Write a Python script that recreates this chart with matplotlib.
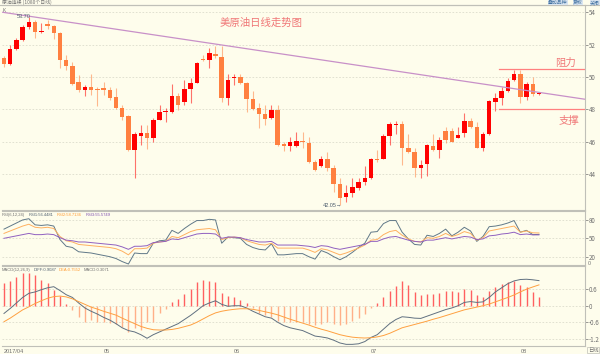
import matplotlib
matplotlib.use("Agg")
import matplotlib.pyplot as plt
import numpy as np

plt.rcParams['font.family'] = ['Noto Sans CJK SC', 'DejaVu Sans']

# daily candles
opens = [51.16, 50.79, 51.73, 52.27, 53.09, 53.38, 52.76, 53.28, 53.17, 52.72,
         51.03, 50.70, 49.67, 49.20, 49.36, 49.22, 49.30, 49.18, 48.76, 48.10,
         47.59, 45.50, 46.37, 46.52, 46.21, 47.36, 47.85, 47.82, 48.82, 48.47,
         49.26, 49.63, 51.11, 51.03, 51.40, 51.26, 48.72, 49.92, 50.00, 49.63,
         48.64, 48.06, 47.73, 47.45, 47.96, 45.86, 45.72, 45.72, 46.04, 45.94,
         44.72, 44.48, 44.93, 44.35, 43.40, 42.60, 42.85, 43.16, 43.53, 43.73,
         44.93, 44.93, 46.35, 47.05, 47.07, 45.63, 45.38, 44.39, 44.60, 45.75,
         45.49, 46.68, 46.68, 46.21, 46.52, 47.28, 46.91, 45.63, 46.47, 48.47,
         48.72, 49.13, 49.81, 50.17, 48.78, 49.59, 48.95]
highs = [51.30, 51.95, 52.40, 53.20, 53.70, 53.55, 53.32, 53.50, 53.20, 52.75,
         51.36, 50.95, 50.10, 49.50, 50.17, 49.35, 49.70, 49.35, 49.30, 48.27,
         47.65, 46.62, 47.03, 47.03, 47.45, 48.27, 48.06, 49.58, 49.00, 49.82,
         49.92, 50.95, 51.36, 51.77, 51.94, 51.94, 50.20, 50.20, 50.20, 49.71,
         49.10, 48.37, 48.27, 48.27, 48.27, 46.00, 46.30, 46.62, 46.62, 46.30,
         44.87, 45.10, 45.38, 44.56, 43.74, 43.32, 43.74, 43.74, 44.50, 44.97,
         45.50, 46.50, 47.24, 47.30, 47.30, 46.50, 45.59, 44.87, 45.85, 46.50,
         46.30, 46.90, 46.85, 46.90, 47.75, 47.45, 47.20, 46.62, 48.57, 48.99,
         49.40, 49.92, 50.43, 50.43, 49.71, 50.00, 49.05]
lows = [50.60, 50.75, 51.65, 52.20, 52.95, 52.39, 52.70, 52.95, 52.35, 50.54,
        50.45, 49.50, 49.05, 48.85, 48.90, 48.22, 48.90, 48.60, 48.00, 47.35,
        45.45, 43.77, 45.79, 45.55, 46.00, 47.35, 47.20, 47.75, 47.95, 48.27,
        48.37, 49.60, 50.98, 50.54, 51.15, 48.47, 48.27, 49.50, 49.55, 47.85,
        47.95, 46.83, 47.00, 47.40, 45.70, 45.45, 45.45, 45.65, 45.59, 44.66,
        44.20, 44.40, 44.20, 42.91, 42.05, 42.29, 42.60, 43.00, 43.32, 43.70,
        44.76, 44.90, 45.80, 46.50, 44.56, 45.30, 43.80, 43.74, 43.85, 45.40,
        45.00, 45.90, 45.95, 46.21, 46.30, 46.85, 45.59, 45.40, 46.41, 47.90,
        48.27, 49.05, 49.75, 48.37, 48.57, 48.85, 48.90]
closes = [50.79, 51.73, 52.27, 53.09, 53.38, 52.80, 52.86, 53.17, 52.72, 51.03,
          50.70, 49.59, 49.20, 49.36, 49.20, 49.20, 49.18, 48.72, 48.06, 47.55,
          45.50, 46.47, 46.52, 46.21, 47.34, 47.82, 47.90, 48.82, 48.27, 49.26,
          49.63, 50.87, 51.03, 51.47, 51.28, 48.72, 49.83, 50.00, 49.63, 48.64,
          48.02, 47.73, 47.40, 47.96, 45.80, 45.72, 45.96, 46.04, 45.96, 44.72,
          44.27, 44.93, 44.35, 43.36, 42.54, 42.83, 43.22, 43.53, 43.77, 44.93,
          44.87, 46.35, 47.07, 47.07, 45.63, 45.38, 44.35, 44.56, 45.80, 45.49,
          46.10, 46.10, 46.00, 46.41, 47.28, 46.93, 45.63, 46.50, 48.53, 48.68,
          49.13, 49.75, 50.17, 48.78, 49.59, 48.93, 49.03]

rsi1 = [65, 70, 75, 80, 82, 72, 71, 72, 70, 48, 37, 35, 28, 27, 26, 24, 22, 20, 17, 12,
        8, 26, 25, 25, 42, 46, 47, 63, 58, 66, 73, 79, 79, 81, 80, 42, 52, 51, 50, 40,
        35, 32, 31, 41, 23, 23, 24, 25, 25, 20, 16, 30, 26, 20, 15, 20, 27, 35, 42, 60,
        61, 74, 79, 79, 60, 49, 40, 39, 55, 53, 58, 65, 54, 60, 68, 62, 45, 53, 69, 70,
        72, 75, 79, 60, 63, 56, 56.4]
rsi2 = [58, 62, 66, 70, 73, 68, 67, 68, 66, 53, 46, 44, 40, 39, 38, 37, 36, 35, 33, 29,
        23, 33, 33, 34, 42, 44, 45, 53, 51, 56, 61, 64, 65, 66, 64, 48, 51, 52, 51, 46,
        43, 40, 39, 42, 34, 34, 34, 34, 34, 31, 27, 33, 31, 27, 23, 26, 30, 34, 39, 47,
        48, 56, 61, 63, 55, 49, 45, 44, 51, 50, 53, 58, 53, 56, 61, 58, 47, 51, 62, 64,
        66, 68, 70, 60, 62, 59, 58.7]
rsi3 = [50, 52, 54, 56, 58, 56, 56, 57, 56, 51, 47, 46, 44, 44, 43, 42, 41, 40, 39, 36,
        32, 37, 37, 38, 43, 44, 45, 49, 48, 51, 54, 57, 58, 58, 57, 50, 52, 52, 51, 48,
        46, 44, 44, 45, 39, 39, 39, 39, 38, 37, 35, 38, 37, 34, 32, 34, 36, 38, 40, 45,
        45, 49, 52, 53, 50, 47, 45, 44, 47, 47, 49, 51, 49, 51, 53, 52, 48, 49, 54, 55,
        57, 58, 60, 56, 57, 55.6, 55.6]

diff = [-0.28, -0.10, 0.10, 0.30, 0.45, 0.50, 0.58, 0.65, 0.69, 0.55,
        0.40, 0.30, 0.10, -0.08, -0.20, -0.30, -0.42, -0.52, -0.65, -0.80,
        -0.90, -0.95, -1.05, -1.18, -1.05, -0.95, -0.85, -0.75, -0.65, -0.50,
        -0.35, -0.18, 0.00, 0.10, 0.18, 0.05, -0.02, 0.00, 0.00, -0.08,
        -0.20, -0.30, -0.40, -0.45, -0.60, -0.72, -0.80, -0.85, -0.90, -1.00,
        -1.10, -1.13, -1.17, -1.25, -1.35, -1.40, -1.40, -1.38, -1.30, -1.15,
        -1.05, -0.85, -0.65, -0.50, -0.40, -0.42, -0.45, -0.46, -0.38, -0.30,
        -0.22, -0.14, -0.08, 0.00, 0.12, 0.15, 0.12, 0.14, 0.30, 0.50,
        0.65, 0.80, 0.90, 0.95, 0.96, 0.94, 0.91]
dea = [-0.58, -0.45, -0.30, -0.15, -0.04, 0.08, 0.18, 0.27, 0.33, 0.35,
       0.32, 0.25, 0.15, 0.05, -0.05, -0.12, -0.20, -0.27, -0.34, -0.45,
       -0.55, -0.65, -0.75, -0.82, -0.87, -0.88, -0.88, -0.86, -0.82, -0.76,
       -0.70, -0.60, -0.48, -0.36, -0.26, -0.20, -0.16, -0.13, -0.11, -0.11,
       -0.13, -0.17, -0.22, -0.27, -0.33, -0.41, -0.49, -0.56, -0.63, -0.70,
       -0.78, -0.85, -0.91, -0.98, -1.05, -1.10, -1.14, -1.16, -1.17, -1.16,
       -1.13, -1.08, -1.00, -0.90, -0.80, -0.74, -0.68, -0.62, -0.56, -0.49,
       -0.43, -0.36, -0.29, -0.22, -0.15, -0.10, -0.05, 0.00, 0.06, 0.14,
       0.22, 0.30, 0.39, 0.50, 0.60, 0.68, 0.755]
macd = [0.83, 0.91, 1.03, 1.17, 1.17, 1.10, 0.95, 0.83, 0.57, 0.35,
        0.08, -0.16, -0.40, -0.58, -0.52, -0.60, -0.58, -0.62, -0.66, -0.76,
        -0.94, -0.82, -0.88, -0.60, -0.58, -0.28, -0.13, 0.14, 0.23, 0.42,
        0.59, 0.87, 0.95, 0.90, 0.85, 0.45, 0.35, 0.30, 0.20, 0.10,
        -0.10, -0.25, -0.35, -0.40, -0.55, -0.60, -0.60, -0.60, -0.60, -0.65,
        -0.70, -0.65, -0.60, -0.65, -0.70, -0.65, -0.55, -0.45, -0.30, -0.10,
        0.10, 0.30, 0.55, 0.70, 0.90, 0.75, 0.51, 0.39, 0.42, 0.42,
        0.47, 0.54, 0.54, 0.51, 0.59, 0.56, 0.39, 0.33, 0.54, 0.69,
        0.78, 0.87, 0.90, 0.75, 0.69, 0.51, 0.31]

month_pos = [0, 16, 37, 59, 83]
month_labels = ['2017/04', '05', '06', '07', '08']
price_ticks = [44, 46, 48, 50, 52, 54]

W, H = 600, 354
BG = '#fefdec'
UP = '#ff0000'
DOWN = '#ff8040'
GRID = '#dcdccc'
EDGE = '#c0c0b8'
TXT = '#707070'
SMALL = ['Liberation Sans', 'Noto Sans CJK SC']

fig = plt.figure(figsize=(W / 100, H / 100), dpi=100)
fig.patch.set_facecolor(BG)


def px_axes(x0, y0, x1, y1):
    a = fig.add_axes([x0 / W, 1 - y1 / H, (x1 - x0) / W, (y1 - y0) / H])
    a.set_facecolor(BG)
    a.spines['left'].set_visible(False)
    for s in ['top', 'bottom', 'right']:
        a.spines[s].set_color(EDGE)
        a.spines[s].set_linewidth(0.8)
    a.yaxis.tick_right()
    a.tick_params(axis='y', labelsize=4.5, colors=TXT, length=2, pad=1, width=0.5)
    a.tick_params(axis='x', length=0)
    a.set_xticks([])
    a.set_xlim(-0.32, 93.4)
    return a


def ptext(x, y, s, **kw):
    kw.setdefault('va', 'center')
    return fig.text(x / W, 1 - y / H, s, **kw)


ax = px_axes(2, 5, 585, 210)
ax_rsi = px_axes(2, 211, 585, 265)
ax_macd = px_axes(2, 266, 585, 346)

idx = np.arange(len(closes))
o = np.array(opens)
c = np.array(closes)
up = c >= o
cols = np.where(up, UP, DOWN)

# candles
ax.vlines(idx, lows, highs, colors=cols, linewidth=0.8, alpha=0.55, zorder=2)
ax.bar(idx, np.maximum(np.abs(c - o), 0.04), bottom=np.minimum(o, c), width=0.72,
       color=cols, linewidth=0, zorder=3)
ax.set_ylim(41.77, 54.45)
ax.set_yticks(price_ticks)
ax.set_yticklabels([str(t) for t in price_ticks])
for t in price_ticks:
    ax.axhline(t, color=GRID, lw=0.6, ls=(0, (2, 2)), zorder=0)

# trend line, resistance, support
ax.plot([-0.2, 93.4], [54.0, 48.62], color='#c890c8', lw=0.9, zorder=4)
ax.plot([79.5, 93.4], [50.48, 50.48], color='#ff8080', lw=0.9, zorder=4)
ax.plot([79.5, 93.4], [48.0, 48.0], color='#ff8080', lw=0.9, zorder=4)

ptext(261, 23, '美原油日线走势图', fontsize=7.5, color='#f07878', ha='center')
ptext(565, 63, '阻力', fontsize=7.5, color='#f07878', ha='center')
ptext(569, 121, '支撑', fontsize=7.5, color='#f07878', ha='center')
ptext(17, 17, '53.70', fontsize=4, color='#506070', family=SMALL)
ptext(323, 205, '42.05→', fontsize=4, color='#506070', family=SMALL)

# RSI
ax_rsi.plot(idx, rsi1, color='#607888', lw=0.7)
ax_rsi.plot(idx, rsi2, color='#ffb060', lw=0.7)
ax_rsi.plot(idx, rsi3, color='#9060c0', lw=0.7)
ax_rsi.set_ylim(6.4, 94.6)
ax_rsi.set_yticks([20, 50, 80])
for t in [20, 50, 80]:
    ax_rsi.axhline(t, color=GRID, lw=0.6, ls=(0, (2, 2)), zorder=0)
ptext(588, 263.5, '0', fontsize=3.8, color=TXT, family=SMALL)

hdr = dict(fontsize=3.0, family=SMALL)
ptext(2, 215, 'RSI(6,12,24)', color=TXT, **hdr)
ptext(29, 215, 'RSI1:56.4481', color='#506070', **hdr)
ptext(57, 215, 'RSI2:58.7136', color='#ff9a30', **hdr)
ptext(86, 215, 'RSI3:55.5749', color='#8050b0', **hdr)

# MACD
m = np.array(macd)
mcols = np.where(m >= 0, '#ff6060', '#ffb088')
ax_macd.vlines(idx, 0, m, colors=mcols, linewidth=1.0, zorder=2)
ax_macd.plot(idx, diff, color='#607080', lw=0.7, zorder=3)
ax_macd.plot(idx, dea, color='#ffa040', lw=0.7, zorder=3)
ax_macd.set_ylim(-1.46, 1.44)
ax_macd.set_yticks([-1.2, -0.6, 0, 0.6])
ax_macd.set_yticklabels(['-1.2', '-0.6', '0', '0.6'])
for t in [-1.2, -0.6, 0, 0.6]:
    ax_macd.axhline(t, color=GRID, lw=0.6, ls=(0, (2, 2)), zorder=0)
ax_macd.set_xticks(month_pos)
ax_macd.set_xticklabels(month_labels)
ax_macd.tick_params(axis='x', labelsize=4, colors=TXT, length=0, pad=2)
for lab in ax_macd.get_xticklabels():
    lab.set_ha('left')
    lab.set_family(SMALL)

ptext(2, 270, 'MACD(12,26,9)', color=TXT, **hdr)
ptext(34, 270, 'DIFF:0.9087', color='#506070', **hdr)
ptext(59, 270, 'DEA:0.7552', color='#ff9a30', **hdr)
ptext(84, 270, 'MACD:0.3071', color=TXT, **hdr)

# header bits
ptext(2, 2.5, '原油连续 (1080个日线)', fontsize=3.5, color=TXT)
fig.add_artist(plt.Line2D([0, 1], [1 - 5 / H, 1 - 5 / H], color=EDGE, lw=0.8))
ptext(3, 11, 'K', fontsize=3.5, color=TXT, family=SMALL)
for x, s in [(548, '叠加品种'), (573, '复权'), (590, '关闭')]:
    ptext(x, 2.5, s, fontsize=3.5, color='#4070a0', ha='left',
          bbox=dict(boxstyle='square,pad=0.1', fc='#d8e4f0', ec='none'))
ptext(588, 350, '日线', fontsize=3.8, color=TXT,
      bbox=dict(boxstyle='square,pad=0.15', fc=BG, ec=EDGE, lw=0.5))

fig.savefig('out.png', dpi=100, facecolor=BG)
